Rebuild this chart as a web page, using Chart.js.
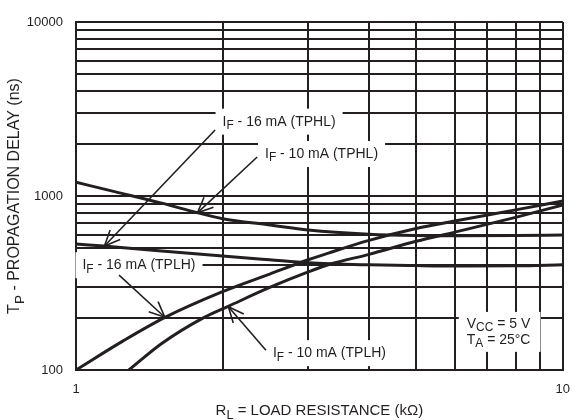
<!DOCTYPE html>
<html><head><meta charset="utf-8">
<script src="https://cdn.jsdelivr.net/npm/chart.js@4/dist/chart.umd.min.js"></script>
<style>html,body{margin:0;padding:0;background:#fff}#wrap{width:582px;height:420px}</style>
</head><body><div id="wrap"><canvas id="c" width="582" height="420"></canvas></div>
<script>
const FONT = '"Liberation Sans", Arial, Helvetica, sans-serif';
const INK = '#231f20';

// Axis ticks (log-log)
const xTicks = [1, 2, 3, 4, 5, 6, 7, 8, 9, 10];
const xTickLabels = { 1: '1', 10: '10' };
const yTicks = [100, 200, 300, 400, 500, 600, 700, 800, 900, 1000, 2000, 3000, 4000, 5000, 6000, 7000, 8000, 9000, 10000];
const yTickLabels = { 100: '100', 1000: '1000', 10000: '10000' };

// Series: load resistance (kΩ) and propagation delay (ns)
const tphl10X = [1, 1.2, 1.5, 1.78, 2, 2.5, 3, 4, 5, 6, 8, 10];
const tphl10Y = [1200, 1060, 910, 800, 740, 682, 638, 603, 592, 590, 592, 597];
const tphl16X = [1, 1.14, 1.5, 2, 2.5, 3, 4, 5, 6, 8, 10];
const tphl16Y = [530, 516, 483, 452, 430, 413, 402, 398, 396, 397, 402];
const tplh16X = [1, 1.25, 1.52, 2, 2.5, 3, 3.3, 4, 5, 6, 8, 10];
const tplh16Y = [100, 147, 200, 282, 356, 430, 470, 556, 650, 718, 832, 935];
const tplh10X = [1.284, 1.5, 1.83, 2.06, 2.5, 3, 3.32, 4, 5, 6, 8, 10];
const tplh10Y = [100, 142, 200, 233, 298, 366, 405, 462, 549, 620, 754, 888];

// Annotation texts (parts: [text, isSubscript])
const labelParts = [
  [['I', 0], ['F', 1], [' - 16 mA (TPHL)', 0]],
  [['I', 0], ['F', 1], [' - 10 mA (TPHL)', 0]],
  [['I', 0], ['F', 1], [' - 16 mA (TPLH)', 0]],
  [['I', 0], ['F', 1], [' - 10 mA (TPLH)', 0]]
];
// label anchors (data units: left edge x, middle y)
const labelAtX = [2.0, 2.445, 1.031, 2.538];
const labelAtY = [2675, 1743, 400, 125];
// arrows (data units) tail -> tip
const arrowFromX = [1.931, 2.356, 1.226, 2.456];
const arrowFromY = [2395, 1676, 351, 130];
const arrowToX = [1.144, 1.776, 1.522, 2.056];
const arrowToY = [516, 800, 201, 231];
// condition note
const noteLines = [
  [['V', 0], ['CC', 1], [' = 5 V', 0]],
  [['T', 0], ['A', 1], [' = 25°C', 0]]
];
const noteAtX = 6.35;
const noteAtY = [184, 149];

const xTitle = [['R', 0], ['L', 1], [' = LOAD RESISTANCE (kΩ)', 0]];
const yTitle = [['T', 0], ['P', 1], [' - PROPAGATION DELAY (ns)', 0]];

function pts(xs, ys) { return xs.map((x, i) => ({ x: x, y: ys[i] })); }

function richWidth(ctx, parts, size) {
  let w = 0;
  for (const [t, sub] of parts) {
    ctx.font = (sub ? size * 0.85 : size) + 'px ' + FONT;
    w += ctx.measureText(t).width;
  }
  return w;
}
function drawRich(ctx, parts, x, y, size) {
  ctx.textBaseline = 'middle';
  ctx.textAlign = 'left';
  for (const [t, sub] of parts) {
    const s = sub ? size * 0.85 : size;
    ctx.font = s + 'px ' + FONT;
    ctx.fillText(t, x, y + (sub ? size * 0.3 : 0));
    x += ctx.measureText(t).width;
  }
}

const LABEL_SIZE = 14;
const annotate = {
  id: 'annotate',
  beforeDatasetsDraw(chart) {
    const ctx = chart.ctx, xs = chart.scales.x, ys = chart.scales.y;
    ctx.save();
    ctx.fillStyle = '#fff';
    labelParts.forEach((p, i) => {
      const x = xs.getPixelForValue(labelAtX[i]);
      const y = ys.getPixelForValue(labelAtY[i]);
      const w = richWidth(ctx, p, LABEL_SIZE);
      ctx.fillRect(x - 7, y - 13, w + 14, 26);
    });
    const nx = xs.getPixelForValue(noteAtX);
    const ny0 = ys.getPixelForValue(noteAtY[0]);
    const ny1 = ys.getPixelForValue(noteAtY[1]);
    const nw = Math.max(...noteLines.map(p => richWidth(ctx, p, LABEL_SIZE)));
    ctx.fillRect(nx - 8, ny0 - 12, nw + 18, ny1 - ny0 + 24);
    ctx.restore();
  },
  afterDatasetsDraw(chart) {
    const ctx = chart.ctx, xs = chart.scales.x, ys = chart.scales.y;
    ctx.save();
    ctx.fillStyle = INK;
    ctx.strokeStyle = INK;
    labelParts.forEach((p, i) => {
      drawRich(ctx, p, xs.getPixelForValue(labelAtX[i]), ys.getPixelForValue(labelAtY[i]), LABEL_SIZE);
    });
    noteLines.forEach((p, i) => {
      drawRich(ctx, p, xs.getPixelForValue(noteAtX), ys.getPixelForValue(noteAtY[i]), LABEL_SIZE);
    });
    ctx.lineWidth = 1.6;
    ctx.lineCap = 'butt';
    arrowFromX.forEach((fx, i) => {
      const x0 = xs.getPixelForValue(fx), y0 = ys.getPixelForValue(arrowFromY[i]);
      const x1 = xs.getPixelForValue(arrowToX[i]), y1 = ys.getPixelForValue(arrowToY[i]);
      ctx.beginPath(); ctx.moveTo(x0, y0); ctx.lineTo(x1, y1); ctx.stroke();
      const a = Math.atan2(y0 - y1, x0 - x1), L = 17, h = 0.42;
      ctx.beginPath();
      ctx.moveTo(x1 + L * Math.cos(a - h), y1 + L * Math.sin(a - h));
      ctx.lineTo(x1, y1);
      ctx.lineTo(x1 + L * Math.cos(a + h), y1 + L * Math.sin(a + h));
      ctx.stroke();
    });
    ctx.restore();
  },
  afterDraw(chart) {
    const ctx = chart.ctx, a = chart.chartArea;
    ctx.save();
    ctx.fillStyle = INK;
    const TS = 15;
    const w = richWidth(ctx, xTitle, TS);
    drawRich(ctx, xTitle, (a.left + a.right) / 2 - w / 2, 411, TS);
    const TSY = 16;
    const wy = richWidth(ctx, yTitle, TSY);
    ctx.translate(15, (a.top + a.bottom) / 2);
    ctx.rotate(-Math.PI / 2);
    drawRich(ctx, yTitle, -wy / 2, 0, TSY);
    ctx.restore();
  }
};

new Chart(document.getElementById('c'), {
  type: 'line',
  data: {
    datasets: [
      { label: 'IF 10 mA TPHL', data: pts(tphl10X, tphl10Y) },
      { label: 'IF 16 mA TPHL', data: pts(tphl16X, tphl16Y) },
      { label: 'IF 16 mA TPLH', data: pts(tplh16X, tplh16Y) },
      { label: 'IF 10 mA TPLH', data: pts(tplh10X, tplh10Y) }
    ].map(d => Object.assign(d, {
      borderColor: INK, borderWidth: 3, pointRadius: 0, fill: false,
      cubicInterpolationMode: 'monotone'
    }))
  },
  options: {
    responsive: false,
    animation: false,
    events: [],
    layout: { padding: { top: 22, right: 9, left: 0, bottom: 0 } },
    plugins: { legend: { display: false }, tooltip: { enabled: false } },
    scales: {
      x: {
        type: 'logarithmic', min: 1, max: 10,
        afterBuildTicks: s => { s.ticks = xTicks.map(v => ({ value: v })); },
        afterFit: s => { s.height = 50; },
        ticks: {
          callback: v => xTickLabels[v] || '', autoSkip: false, maxRotation: 0,
          padding: 12, color: INK, font: { family: FONT, size: 13 }
        },
        grid: { color: INK, lineWidth: 2, drawTicks: false },
        border: { display: true, color: INK, width: 2 }
      },
      y: {
        type: 'logarithmic', min: 100, max: 10000,
        afterBuildTicks: s => { s.ticks = yTicks.map(v => ({ value: v })); },
        afterFit: s => { s.width = 76; },
        ticks: {
          callback: v => yTickLabels[v] || '', autoSkip: false,
          padding: 13, color: INK, font: { family: FONT, size: 13 }
        },
        grid: { color: INK, lineWidth: 2, drawTicks: false },
        border: { display: true, color: INK, width: 2 }
      }
    }
  },
  plugins: [annotate]
});
</script>
</body></html>
